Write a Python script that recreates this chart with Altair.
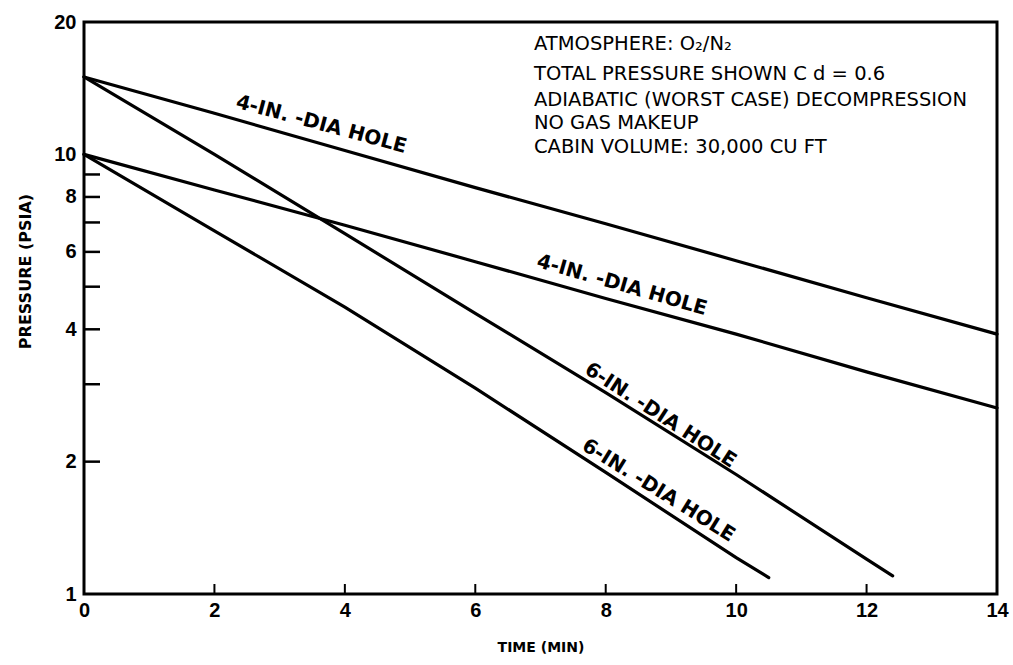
import altair as alt
import pandas as pd

# Series (time in minutes, pressure in psia)
a_t = [0, 2, 4, 6, 8, 10, 12, 14]
a_p = [15.0, 12.4, 10.2, 8.4, 6.95, 5.73, 4.72, 3.9]          # 4-in hole, from 15 psia
b_t = [0, 2, 4, 6, 8, 10, 12, 14]
b_p = [10.0, 8.3, 6.9, 5.7, 4.7, 3.9, 3.2, 2.65]             # 4-in hole, from 10 psia
c_t = [0, 2, 4, 6, 8, 10, 12, 12.4]
c_p = [15.0, 10.0, 6.6, 4.35, 2.87, 1.87, 1.2, 1.1]          # 6-in hole, from 15 psia
d_t = [0, 2, 4, 6, 8, 10, 10.5]
d_p = [10.0, 6.7, 4.49, 2.94, 1.89, 1.21, 1.09]              # 6-in hole, from 10 psia

x_tick_labels = [0, 2, 4, 6, 8, 10, 12, 14]
y_tick_labels = [1, 2, 4, 6, 8, 10, 20]
y_minor_ticks = [2, 3, 4, 5, 6, 7, 8, 9]
x_minor_ticks = [2, 4, 6, 8, 10, 12]

label_text = ["4-IN. -DIA HOLE", "4-IN. -DIA HOLE", "6-IN. -DIA HOLE", "6-IN. -DIA HOLE"]
label_t = [3.64, 8.25, 8.84, 8.81]
label_p = [11.7, 5.04, 2.55, 1.72]
label_angle = [15, 16, 33, 32]

note_text = [
    "ATMOSPHERE:  O\u2082/N\u2082",
    "TOTAL PRESSURE SHOWN  C d  =  0.6",
    "ADIABATIC (WORST CASE) DECOMPRESSION",
    "NO GAS MAKEUP",
    "CABIN VOLUME:  30,000 CU FT",
]
note_t = [6.9, 6.9, 6.9, 6.9, 6.9]
note_p = [17.8, 15.2, 13.3, 11.8, 10.4]

rows = []
for name, ts, ps in [("A", a_t, a_p), ("B", b_t, b_p), ("C", c_t, c_p), ("D", d_t, d_p)]:
    for t, p in zip(ts, ps):
        rows.append({"series": name, "t": t, "p": p})
lines_df = pd.DataFrame(rows)

FONT = "Liberation Sans"
LFONT = "DejaVu Sans"
xscale = alt.Scale(domain=[0, 14], nice=False, zero=False)
yscale = alt.Scale(type="log", domain=[1, 20], nice=False)

xaxis = alt.Axis(values=x_tick_labels, format="d", ticks=False, domain=False, grid=False,
                 labelFlush=False, labelOverlap=False,
                 labelFont=FONT, labelFontSize=20, labelFontWeight="bold", labelPadding=6,
                 titleFont=LFONT, titleFontSize=14, titleFontWeight="bold", titlePadding=20)
yaxis = alt.Axis(values=y_tick_labels, format="d", ticks=False, domain=False, grid=False,
                 labelFlush=False, labelOverlap=False,
                 labelFont=FONT, labelFontSize=20, labelFontWeight="bold", labelPadding=8,
                 titleFont=LFONT, titleFontSize=16, titleFontWeight="bold", titlePadding=20,
                 titleY=249)


def X(field):
    return alt.X(field, scale=xscale, axis=xaxis, title="TIME (MIN)")


def Y(field):
    return alt.Y(field, scale=yscale, axis=yaxis, title="PRESSURE (PSIA)")


lines = alt.Chart(lines_df).mark_line(color="black", strokeWidth=3.2, strokeCap="round").encode(
    x=X("t:Q"), y=Y("p:Q"), detail="series:N",
)

yt = alt.Chart(pd.DataFrame({"v": y_minor_ticks})).mark_rule(color="black", strokeWidth=2.5).encode(
    y=Y("v:Q"), x=alt.value(0), x2=alt.value(16),
)
xt = alt.Chart(pd.DataFrame({"v": x_minor_ticks})).mark_rule(color="black", strokeWidth=2).encode(
    x=X("v:Q"), y=alt.value(572), y2=alt.value(562),
)

lab_df = pd.DataFrame({"txt": label_text, "t": label_t, "p": label_p})
labels = alt.layer(*[
    alt.Chart(lab_df.iloc[[i]]).mark_text(font=LFONT, fontSize=20, fontWeight="bold", color="black",
                                           angle=label_angle[i], align="center", baseline="middle").encode(
        x=X("t:Q"), y=Y("p:Q"), text="txt:N",
    ) for i in range(len(label_text))
])

notes = alt.Chart(pd.DataFrame({"txt": note_text, "t": note_t, "p": note_p})).mark_text(
    font=LFONT, fontSize=19.5, fontWeight=500, color="black", align="left", baseline="middle").encode(
    x=X("t:Q"), y=Y("p:Q"), text="txt:N",
)

chart = alt.layer(lines, yt, xt, labels, notes).properties(
    width=913, height=572,
    padding={"left": 84, "top": 22, "right": 16, "bottom": 71},
    autosize=alt.AutoSizeParams(type="none"),
    background="white",
).configure_view(stroke="black", strokeWidth=3)

chart.save("out.html", embed_options={"renderer": "svg", "actions": False})
